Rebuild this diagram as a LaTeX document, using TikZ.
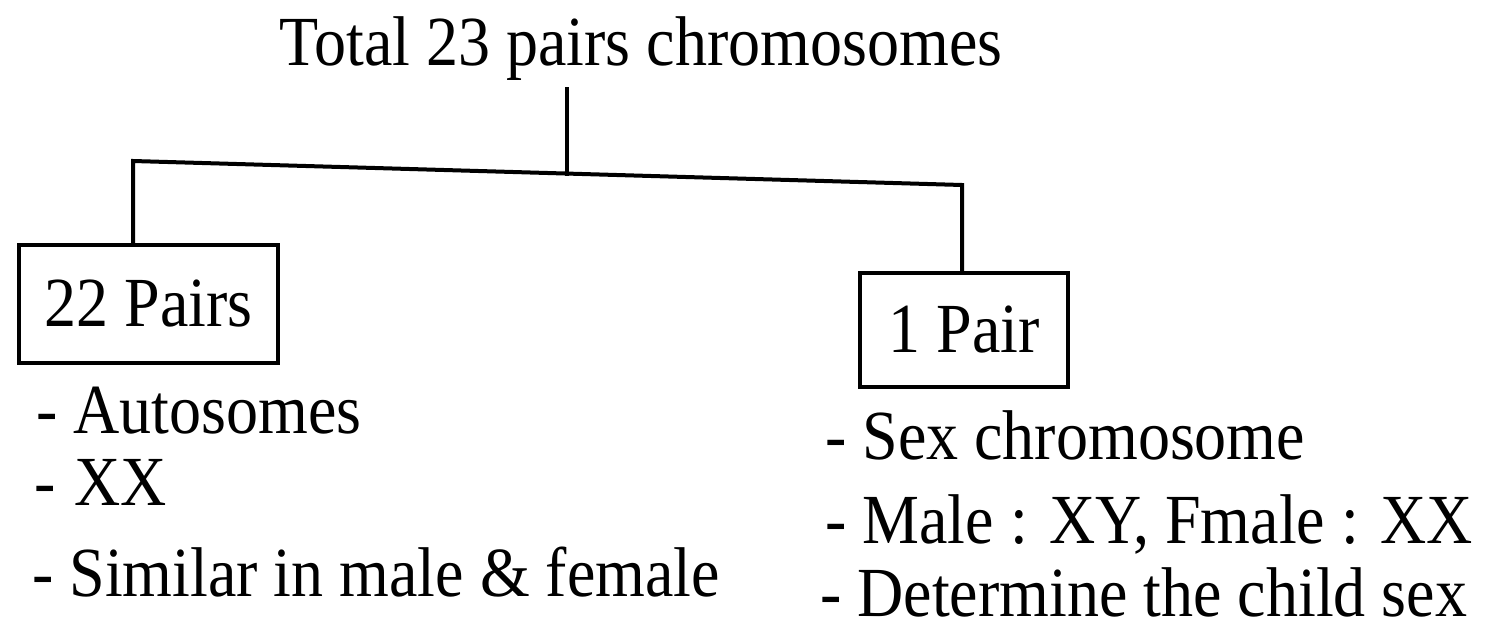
\documentclass[tikz,border=0pt]{standalone}
\usepackage{fontspec}
\setmainfont{Liberation Serif}
\newcommand{\stx}[1]{\scalebox{1}[1.1]{#1}}
\begin{document}
\begin{tikzpicture}[x=1pt,y=-1pt,
  every node/.style={font=\fontsize{64}{78}\selectfont},
  conn/.style={line width=4pt, line cap=rect},
  pairbox/.style={draw, line width=4.5pt, inner sep=0pt, anchor=center},
  item/.style={anchor=base west, inner sep=0pt}]
\useasboundingbox[fill=white] (0,0) rectangle (1494,631);
% title
\node[anchor=base, inner sep=0pt] (t) at (641,66) {\stx{Total 23 pairs chromosomes}};
% junction points
\coordinate (jl) at (133,161);
\coordinate (jr) at (962,185);
\coordinate (j) at (567,173.6);
\coordinate (ttop) at (567,89);
% boxes
\node[pairbox, minimum width=259pt, minimum height=118pt] (b1) at (148.5,304) {\stx{22 Pairs}};
\node[pairbox, minimum width=208pt, minimum height=114pt] (b2) at (964,330) {\stx{1 Pair}};
% connectors
\draw[conn] (ttop) -- (j);
\draw[conn] (jl |- b1.north) -- (jl) -- (jr) -- (jr |- b2.north);
% lists
\node[item] (l1) at (36,433) {\stx{- Autosomes}};
\node[item] (l2) at (34,505) {\stx{-\hspace{0.3em}XX}};
\node[item] (l3) at (32,596) {\stx{- Similar in male \& female}};
\node[item] (r1) at (825,459) {\stx{- Sex chromosome}};
\node[item] (r2) at (825,543) {\stx{- Male : XY, Fmale : XX}};
\node[item] (r3) at (820,616) {\stx{- Determine the child sex}};
\end{tikzpicture}
\end{document}
